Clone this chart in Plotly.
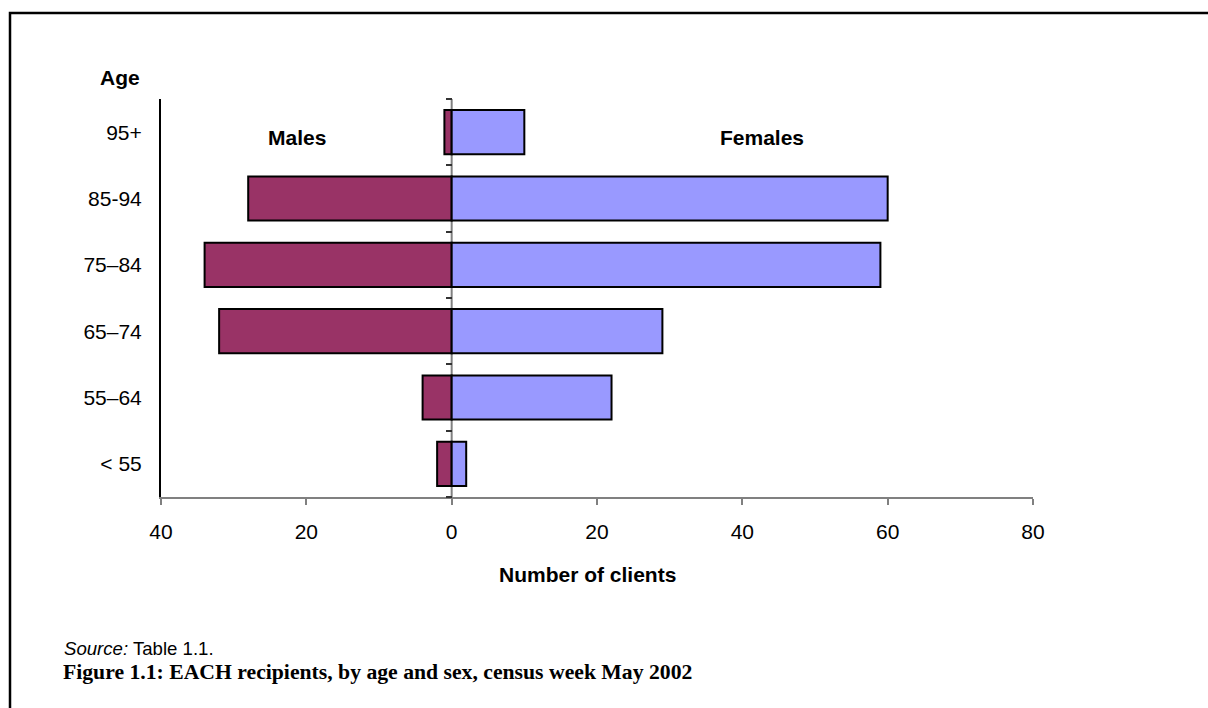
import plotly.graph_objects as go

# Age groups, bottom to top
age_groups = ["< 55", "55–64", "65–74", "75–84", "85-94", "95+"]
males = [2, 4, 32, 34, 28, 1]
females = [2, 22, 29, 59, 60, 10]

x_tick_vals = [-40, -20, 0, 20, 40, 60, 80]
x_tick_text = ["40", "20", "0", "20", "40", "60", "80"]

W, H = 1208, 708
L, R, T, B = 161, 1033, 99, 497  # plot area in pixels


def px(x):
    return (x - L) / (R - L)


def py(y):
    return (B - y) / (B - T)


SANS = "Liberation Sans, Arial, sans-serif"

fig = go.Figure()
fig.add_trace(go.Bar(
    y=age_groups, x=[-v for v in males], orientation="h", name="Males",
    marker=dict(color="#993366", line=dict(color="black", width=2)),
    hoverinfo="skip",
))
fig.add_trace(go.Bar(
    y=age_groups, x=females, orientation="h", name="Females",
    marker=dict(color="#9999FF", line=dict(color="black", width=2)),
    hoverinfo="skip",
))

fig.update_layout(
    width=W, height=H,
    margin=dict(l=L, r=W - R, t=T, b=H - B, pad=0),
    paper_bgcolor="white", plot_bgcolor="white",
    barmode="relative", bargap=0.333,
    showlegend=False,
    font=dict(family=SANS, size=21, color="black"),
    xaxis=dict(
        range=[-40, 80], tickmode="array", tickvals=x_tick_vals, ticktext=x_tick_text,
        showgrid=False, zeroline=False, showline=True, linecolor="#808080", linewidth=2,
        ticks="outside", ticklen=6, tickcolor="#808080", tickwidth=1.5,
        ticklabelstandoff=9, tickfont=dict(size=21),
    ),
    yaxis=dict(
        type="category", categoryorder="array", categoryarray=age_groups,
        range=[-0.5, 5.5],
        showgrid=False, zeroline=False, showline=True, linecolor="black", linewidth=2,
        ticks="", ticklabelstandoff=13, tickfont=dict(size=21),
    ),
    # Tick marks between the age groups on the centre axis
    yaxis2=dict(
        overlaying="y", anchor="free", position=px(452), range=[-0.5, 5.5],
        tickmode="array", tickvals=[-0.5, 0.5, 1.5, 2.5, 3.5, 4.5, 5.5],
        showticklabels=False, ticks="outside", ticklen=6, tickcolor="#333333", tickwidth=1.5,
        showgrid=False, zeroline=False, showline=False,
    ),
)

fig.add_trace(go.Scatter(x=[None], y=[None], yaxis="y2", showlegend=False, hoverinfo="skip"))

# Centre axis line at zero, under the bars
fig.add_shape(type="line", xref="x", yref="paper", x0=0, x1=0, y0=0, y1=1,
              layer="below", line=dict(color="#808080", width=2))

# Frame lines along the top and left of the page
fig.add_shape(type="path", xref="paper", yref="paper",
              path=f"M {px(10)} {py(720)} L {px(10)} {py(13)} L {px(1215)} {py(13)}",
              line=dict(color="black", width=2.5))

annotations = [
    dict(text="<b>Age</b>", x=px(120), y=py(77), xanchor="center", yanchor="middle",
         font=dict(size=21)),
    dict(text="<b>Males</b>", x=px(297), y=py(137), xanchor="center", yanchor="middle",
         font=dict(size=21)),
    dict(text="<b>Females</b>", x=px(762), y=py(137), xanchor="center", yanchor="middle",
         font=dict(size=21)),
    dict(text="<b>Number of clients</b>", x=px(587), y=py(574), xanchor="center", yanchor="middle",
         font=dict(size=21)),
    dict(text="<i>Source:</i> Table 1.1.", x=px(62), y=py(648), xanchor="left", yanchor="middle",
         font=dict(size=18.6)),
    dict(text="<b>Figure 1.1: EACH recipients, by age and sex, census week May 2002</b>",
         x=px(61), y=py(672), xanchor="left", yanchor="middle",
         font=dict(family="Liberation Serif, Times New Roman, serif", size=21.7)),
]
for a in annotations:
    fig.add_annotation(xref="paper", yref="paper", showarrow=False, **a)

fig.write_html("out.html")
